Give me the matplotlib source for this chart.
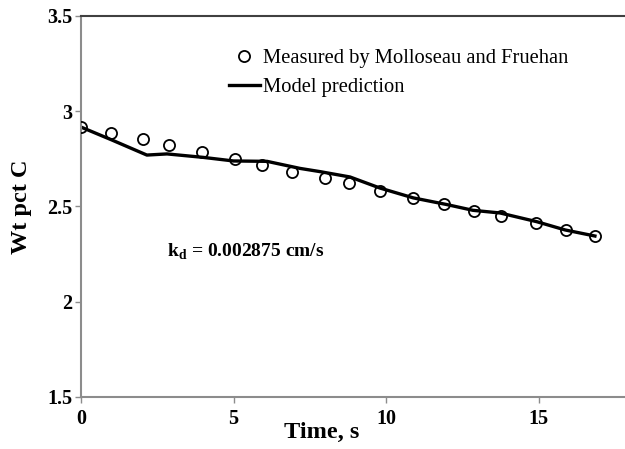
import matplotlib
matplotlib.use('Agg')
import matplotlib.pyplot as plt

# Measured points (Molloseau and Fruehan)
meas_t = [0.0, 0.98, 2.03, 2.89, 3.97, 5.05, 5.93, 6.92, 8.0, 8.79,
          9.8, 10.9, 11.9, 12.89, 13.77, 14.92, 15.9, 16.85]
meas_c = [2.917, 2.886, 2.854, 2.823, 2.786, 2.749, 2.718, 2.681, 2.65, 2.623,
          2.58, 2.545, 2.513, 2.477, 2.45, 2.413, 2.377, 2.345]

# Model prediction curve
model_t = [0.0, 1.0, 2.16, 2.82, 4.0, 5.0, 6.1, 7.18, 7.84, 8.82,
           9.8, 10.9, 12.0, 12.85, 13.74, 14.95, 15.87, 16.85]
model_c = [2.917, 2.85, 2.77, 2.776, 2.758, 2.739, 2.737, 2.70, 2.683, 2.655,
           2.597, 2.545, 2.51, 2.48, 2.466, 2.42, 2.377, 2.345]

plt.rcParams['font.family'] = ['Liberation Serif', 'DejaVu Serif']
plt.rcParams['mathtext.fontset'] = 'custom'
plt.rcParams['mathtext.rm'] = 'Liberation Serif'
plt.rcParams['mathtext.bf'] = 'Liberation Serif:bold'

fig = plt.figure(figsize=(6.25, 4.49), dpi=100)
ax = fig.add_axes([81 / 625, 1 - 397 / 449, 1 - 81 / 625, (397 - 16) / 449])

ax.plot(model_t, model_c, color='black', lw=2.4, label='Model prediction', zorder=2)
ax.plot(meas_t, meas_c, 'o', mfc='none', mec='black', mew=1.3, ms=8,
        label='Measured by Molloseau and Fruehan', zorder=3)

ax.set_xlim(0, 544 / 30.5)
ax.set_ylim(1.5, 3.5)
ax.set_xticks([0, 5, 10, 15])
ax.set_yticks([1.5, 2, 2.5, 3, 3.5])
ax.set_yticklabels(['1.5', '2', '2.5', '3', '3.5'])

for s in ['left', 'bottom']:
    ax.spines[s].set_color('#8c8c8c')
    ax.spines[s].set_linewidth(1.5)
ax.spines['right'].set_visible(False)
ax.spines['top'].set_color('#404040')
ax.spines['top'].set_linewidth(1.5)
ax.tick_params(direction='out', color='#8c8c8c', length=4, width=1,
               labelsize=14.5)
ax.tick_params(axis='y', pad=2)
ax.tick_params(axis='x', pad=5)
for lab in ax.get_xticklabels() + ax.get_yticklabels():
    lab.set_fontweight('bold')

ax.set_xlabel('Time, s', fontsize=17.5, fontweight='bold')
ax.xaxis.set_label_coords((322 - 81) / 544, -(432 - 397) / 381, transform=ax.transAxes)
ax.xaxis.label.set_va('center')
ax.set_ylabel('Wt pct C', fontsize=17.5, fontweight='bold')
ax.yaxis.set_label_coords(-(81 - 22) / 544, 0.5, transform=ax.transAxes)
ax.yaxis.label.set_va('center')

ax.text(167, 449 - 252, r'k$_\mathbf{d}$ = 0.002875 cm/s', transform=None,
        fontsize=14, fontweight='bold', va='center')

handles, labels = ax.get_legend_handles_labels()
ax.legend(handles[::-1], labels[::-1], loc='upper left',
          bbox_to_anchor=(229 / 625, 1 - 49 / 449), bbox_transform=fig.transFigure,
          frameon=False, fontsize=14.8, borderpad=0, borderaxespad=0,
          handlelength=1.5, handletextpad=0.15, labelspacing=0.45)

fig.savefig('out.png', dpi=100)
